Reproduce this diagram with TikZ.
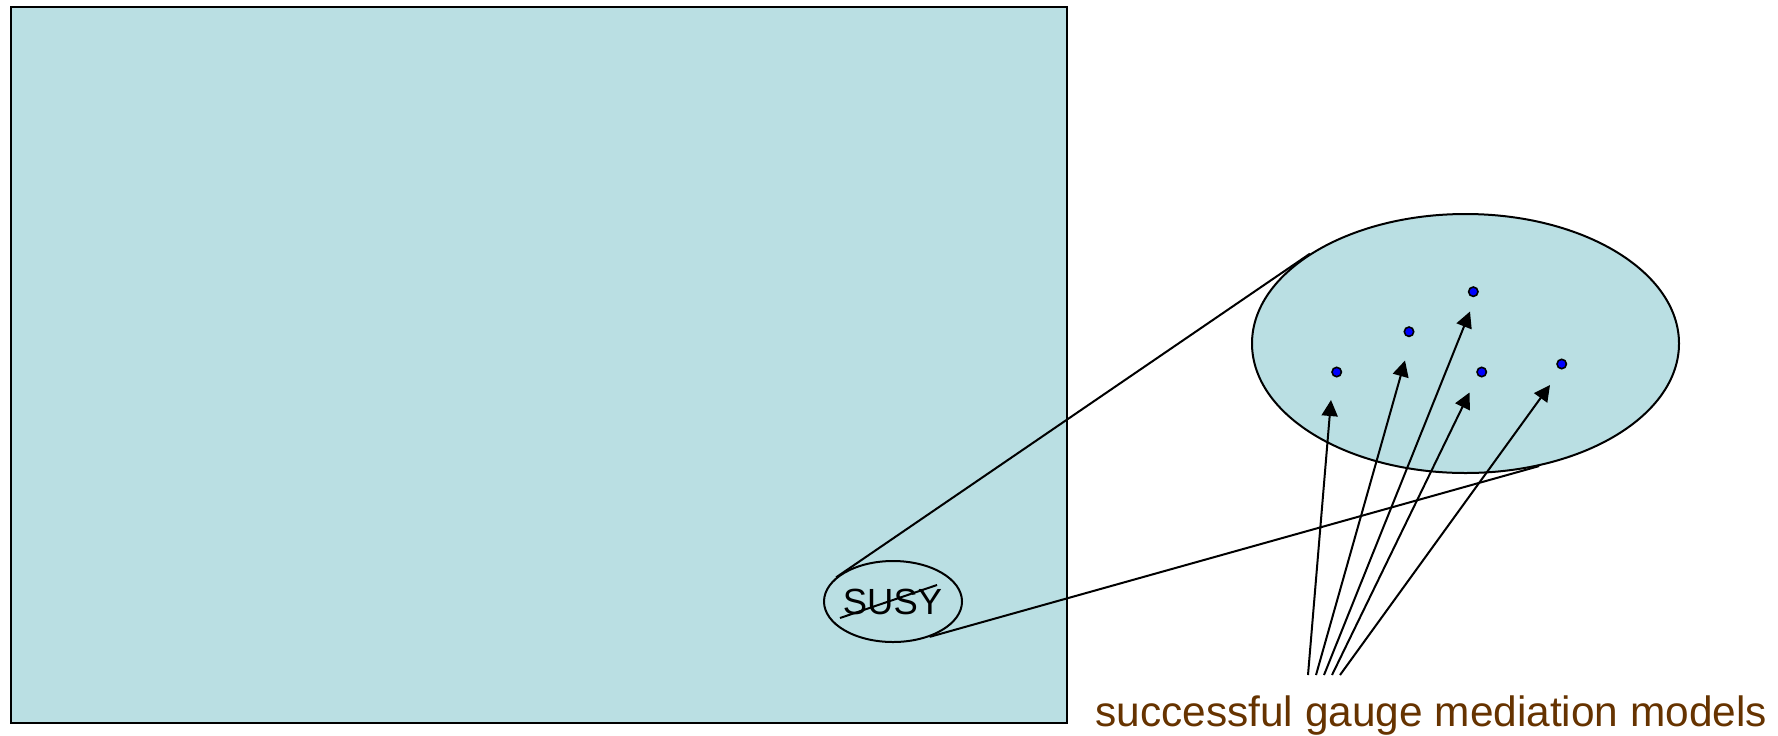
\documentclass[tikz,border=0pt]{standalone}
\usepackage{fontspec}
\setmainfont{Liberation Sans}
\usetikzlibrary{shapes.geometric,arrows.meta}
\definecolor{panel}{RGB}{186,223,227}
\definecolor{labelbrown}{RGB}{102,51,0}
\begin{document}
\begin{tikzpicture}[x=0.5pt,y=-0.5pt,
  lin/.style={line width=1pt,black},
  oval/.style={ellipse,draw,line width=1pt,inner sep=0pt},
  dotmark/.style={circle,draw=black,fill=blue,line width=0.8pt,minimum size=4.7pt,inner sep=0pt},
  arr/.style={lin,-{Triangle[length=8pt,width=8pt]}}]
\useasboundingbox (0,0) rectangle (1778,735);
% theory space
\node[draw,fill=panel,line width=1.2pt,minimum width=528.25pt,minimum height=358.25pt,
      anchor=north west,inner sep=0pt] (space) at (9.5,5.5) {};
% SUSY ellipse
\node[oval,minimum width=69pt,minimum height=40.5pt] (susy) at (893,601.5) {};
\node[inner sep=0pt,font=\fontsize{18.2}{20}\selectfont] (susytext) at (892.5,601.5) {SUSY};
\coordinate (s1) at (840,618);
\coordinate (s2) at (937,585);
\draw[lin] (s1) -- (s2);
% magnified ellipse
\node[oval,fill=panel,minimum width=213.5pt,minimum height=129.5pt] (zoom) at (1465.5,343.5) {};
\draw[lin] (susy.157) -- (zoom.150);
\draw[lin] (susy.-44) -- (zoom.-59);
% models
\node[dotmark] (d1) at (1336.7,372) {};
\node[dotmark] (d2) at (1409,331.7) {};
\node[dotmark] (d3) at (1473.3,291.7) {};
\node[dotmark] (d4) at (1481.7,372) {};
\node[dotmark] (d5) at (1561.7,364) {};
% arrows
\coordinate (b1) at (1308,675);
\coordinate (b2) at (1316,675);
\coordinate (b3) at (1324,675);
\coordinate (b4) at (1332,675);
\coordinate (b5) at (1340,675);
\coordinate (t1) at (1331,400);
\coordinate (t2) at (1405,360.5);
\coordinate (t3) at (1470,311.5);
\coordinate (t4) at (1469.5,392.5);
\coordinate (t5) at (1550,385);
\draw[arr] (b1) -- (t1);
\draw[arr] (b2) -- (t2);
\draw[arr] (b3) -- (t3);
\draw[arr] (b4) -- (t4);
\draw[arr] (b5) -- (t5);
% label
\node[anchor=base west,inner sep=0pt,text=labelbrown,font=\fontsize{21.2}{24}\selectfont] (label) at (1095,726) {successful gauge mediation models};
\end{tikzpicture}
\end{document}
